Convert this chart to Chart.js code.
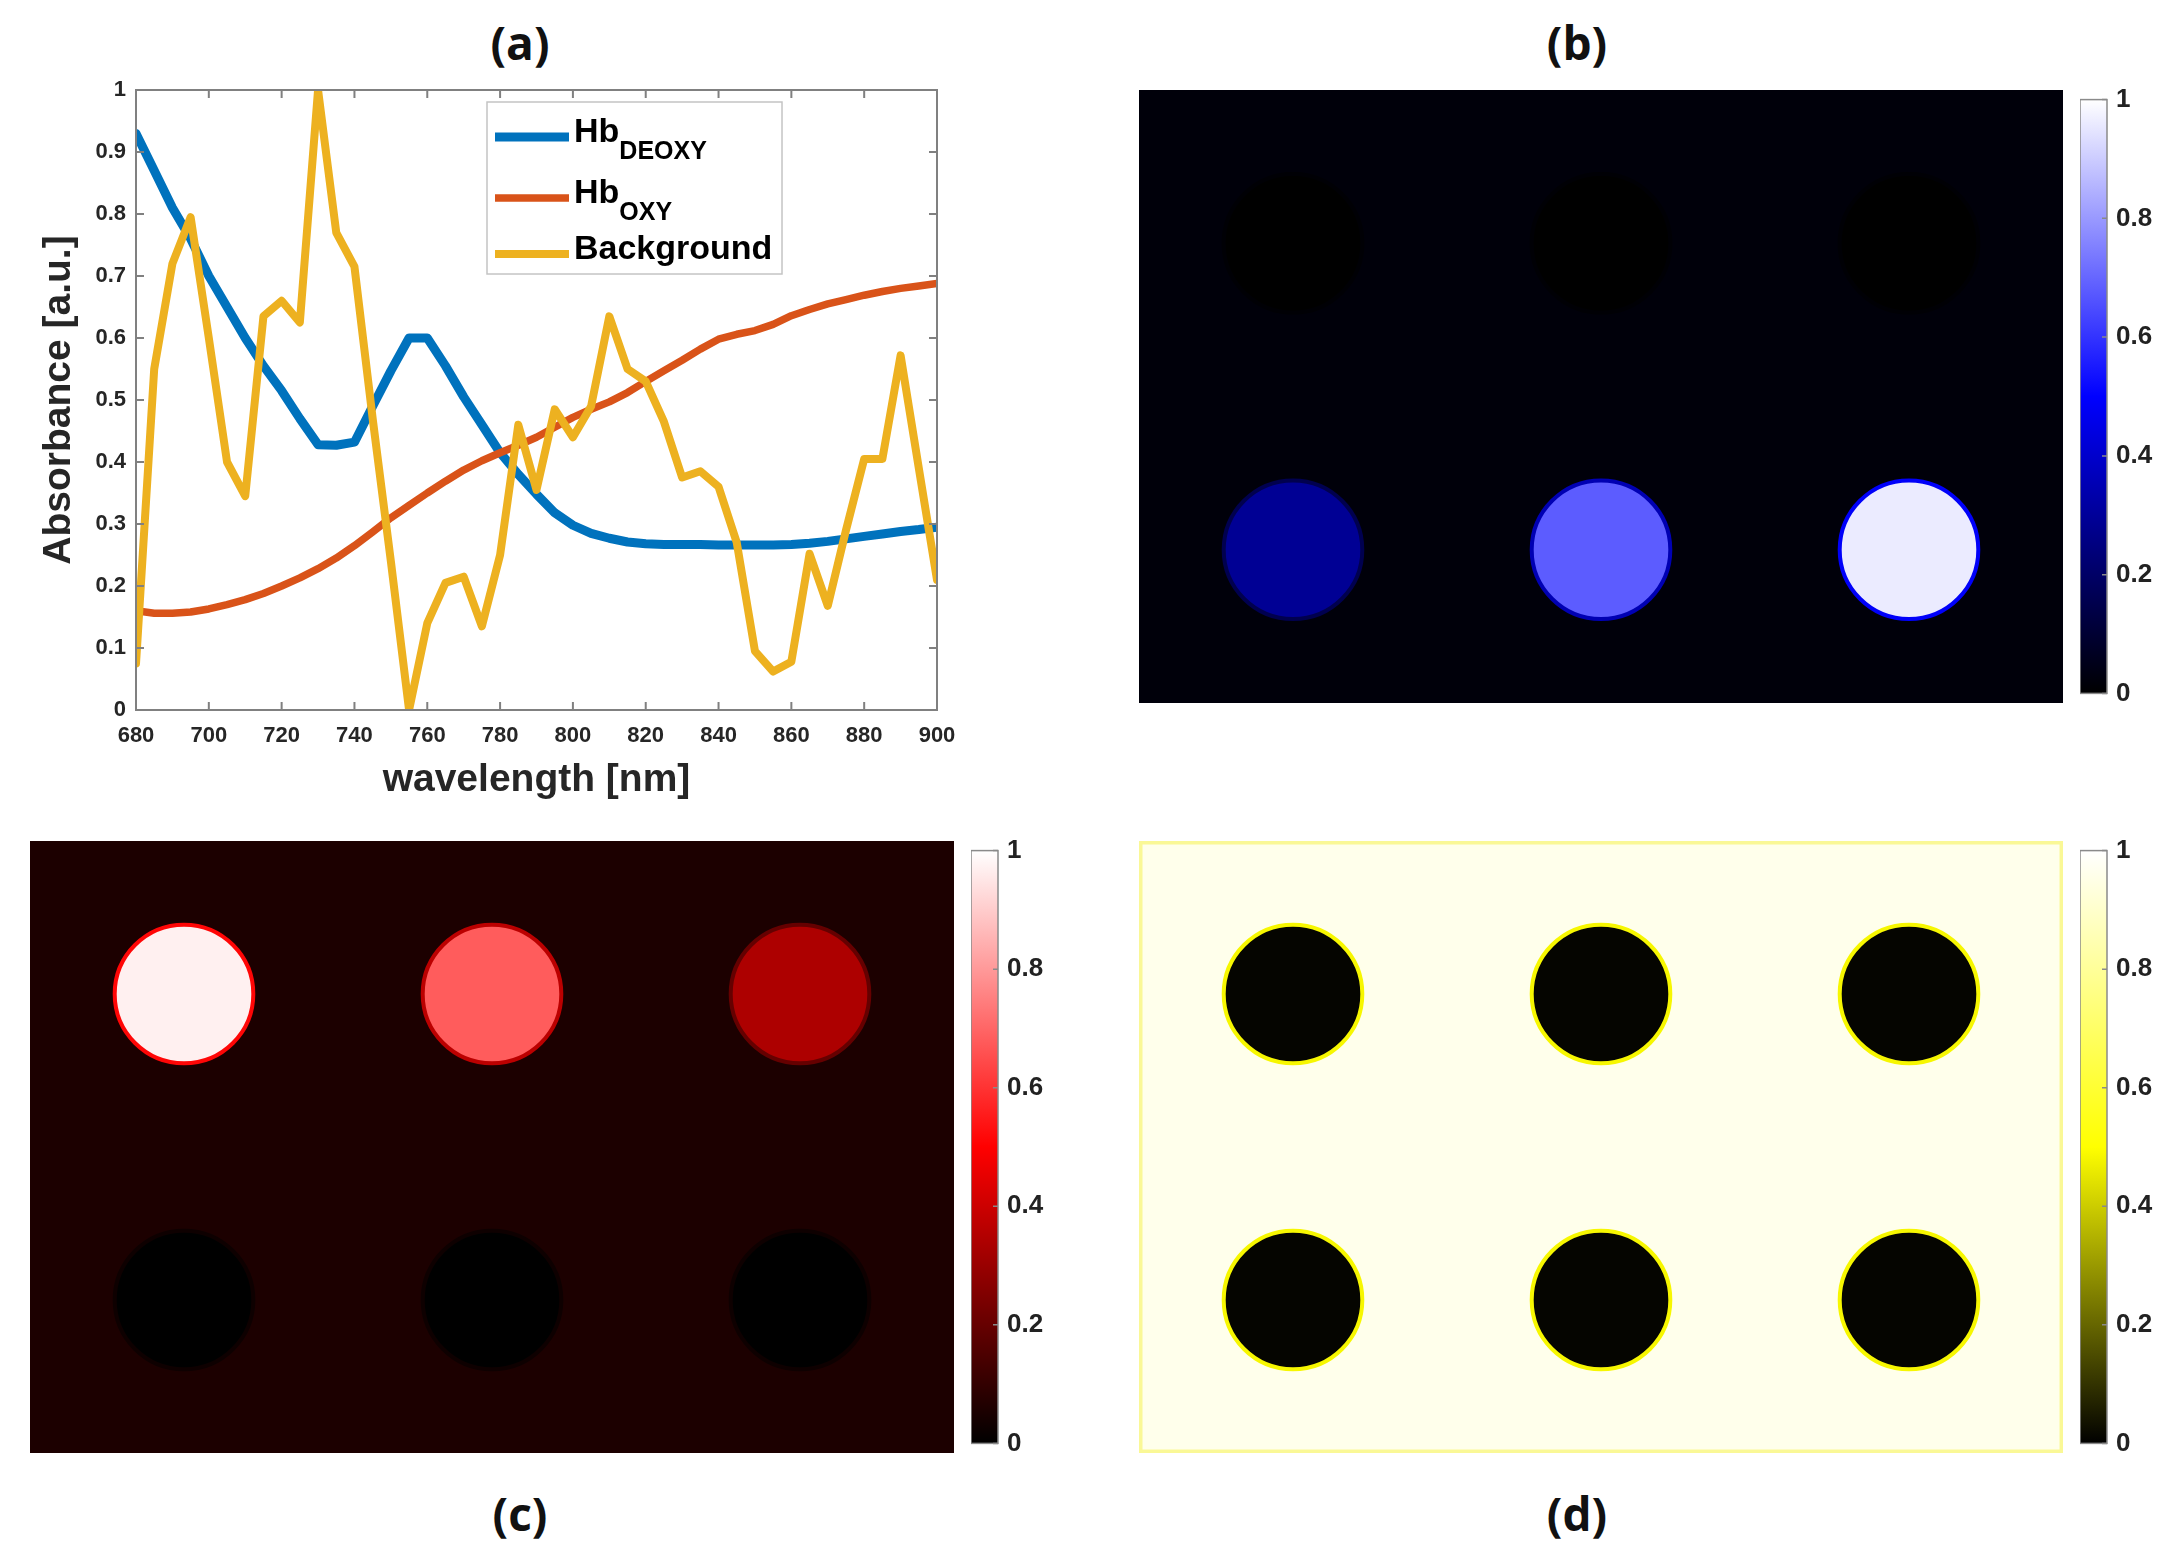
<!DOCTYPE html>
<html>
<head>
<meta charset="utf-8">
<script src="https://cdn.jsdelivr.net/npm/chart.js@4.4.1/dist/chart.umd.min.js"></script>
<style>
  body { margin: 0; background: #fff; width: 2173px; height: 1562px; position: relative; overflow: hidden; }
  .box { position: absolute; }
  .panel-label { position: absolute; transform: translate(-50%, -50%); font: bold 46px 'Open Sans', 'Liberation Sans', sans-serif; color: #111; }
</style>
</head>
<body>
<div class="panel-label" style="left:520px;top:42px">(a)</div>
<div class="panel-label" style="left:1577px;top:42px">(b)</div>
<div class="panel-label" style="left:520px;top:1513px">(c)</div>
<div class="panel-label" style="left:1577px;top:1513px">(d)</div>

<div class="box" style="left:0;top:0;width:1000px;height:820px"><canvas id="spectra"></canvas></div>

<div class="box" style="left:1139px;top:90px;width:924px;height:613px"><canvas id="mapDeoxy"></canvas></div>
<div class="box" style="left:2080px;top:75px;width:93px;height:643px"><canvas id="cbDeoxy"></canvas></div>

<div class="box" style="left:30px;top:841px;width:924px;height:612px"><canvas id="mapOxy"></canvas></div>
<div class="box" style="left:971px;top:826px;width:100px;height:642px"><canvas id="cbOxy"></canvas></div>

<div class="box" style="left:1139px;top:841px;width:924px;height:612px"><canvas id="mapBack"></canvas></div>
<div class="box" style="left:2080px;top:826px;width:93px;height:642px"><canvas id="cbBack"></canvas></div>

<script>
// ---- panel (a): absorbance spectra ----
var wavelengths = [680, 685, 690, 695, 700, 705, 710, 715, 720, 725, 730, 735, 740, 745, 750,
                   755, 760, 765, 770, 775, 780, 785, 790, 795, 800, 805, 810, 815, 820, 825,
                   830, 835, 840, 845, 850, 855, 860, 865, 870, 875, 880, 885, 890, 895, 900]
var hbDeoxy = [0.93, 0.87, 0.81, 0.76, 0.70, 0.65, 0.60, 0.555, 0.515, 0.47, 0.428, 0.427, 0.432, 0.49, 0.547,
               0.60, 0.60, 0.555, 0.505, 0.46, 0.415, 0.38, 0.348, 0.318, 0.298, 0.285, 0.277, 0.271, 0.268, 0.267,
               0.267, 0.267, 0.266, 0.266, 0.266, 0.266, 0.267, 0.269, 0.272, 0.276, 0.28, 0.284, 0.288, 0.291, 0.295]
var hbOxy = [0.16, 0.156, 0.156, 0.158, 0.163, 0.17, 0.178, 0.188, 0.2, 0.213, 0.228, 0.245, 0.265, 0.287, 0.31,
             0.33, 0.35, 0.369, 0.387, 0.402, 0.415, 0.427, 0.44, 0.456, 0.472, 0.485, 0.497, 0.512, 0.53, 0.547,
             0.564, 0.582, 0.598, 0.606, 0.612, 0.622, 0.636, 0.646, 0.655, 0.662, 0.669, 0.675, 0.68, 0.684, 0.688]
var background = [0.075, 0.55, 0.72, 0.795, 0.60, 0.40, 0.345, 0.635, 0.66, 0.625, 1.0, 0.77, 0.715, 0.47, 0.24,
                  0.0, 0.14, 0.205, 0.215, 0.135, 0.25, 0.46, 0.355, 0.485, 0.44, 0.49, 0.635, 0.55, 0.53, 0.465,
                  0.375, 0.385, 0.36, 0.27, 0.095, 0.062, 0.078, 0.252, 0.168, 0.29, 0.405, 0.405, 0.572, 0.39, 0.21]
var seriesLabels = ['Hb_DEOXY', 'Hb_OXY', 'Background']
var seriesColors = ['#0072BD', '#D95319', '#EDB120']

// ---- panels (b)-(d): phantom maps, 60 x 40 units, six inclusions ----
var phantomW = 60
var phantomH = 40
var inclusionX = [10, 30, 50, 10, 30, 50]
var inclusionY = [10, 10, 10, 30, 30, 30]
var inclusionR = 4.5
var deoxyValues = [0, 0, 0, 0.29, 0.68, 0.96]
var deoxyBackground = 0.02
var oxyValues = [0.97, 0.68, 0.34, 0, 0, 0]
var oxyBackground = 0.055
var backValues = [0.01, 0.01, 0.01, 0.01, 0.01, 0.01]
var backBackground = 0.96
var colorbarTicks = [0, 0.2, 0.4, 0.6, 0.8, 1]

var labelFont = "'Liberation Sans', Arial, sans-serif"

// black -> pure colour -> white, like the matlab maps
function cmap (base, v) {
  var rgb
  if (v <= 0.5) {
    rgb = base.map(function (b) { return b * v / 0.5 })
  } else {
    rgb = base.map(function (b) { return b + (255 - b) * (v - 0.5) / 0.5 })
  }
  return 'rgb(' + rgb.map(Math.round).join(',') + ')'
}

// box round the plot area with ticks pointing inwards
var axesBox = {
  id: 'axesBox',
  afterDatasetsDraw (chart, args, opts) {
    var ctx = chart.ctx
    var a = chart.chartArea
    var len = opts.tickLength
    ctx.save()
    ctx.strokeStyle = opts.color
    ctx.lineWidth = opts.width
    ctx.strokeRect(a.left, a.top, a.right - a.left, a.bottom - a.top)
    ctx.beginPath()
    var xs = chart.scales.x
    if (opts.xTicks && xs) {
      xs.ticks.forEach(function (t) {
        var px = xs.getPixelForValue(t.value)
        ctx.moveTo(px, a.bottom); ctx.lineTo(px, a.bottom - len)
        ctx.moveTo(px, a.top); ctx.lineTo(px, a.top + len)
      })
    }
    var ys = chart.scales.y
    ys.ticks.forEach(function (t) {
      var py = ys.getPixelForValue(t.value)
      if (opts.leftTicks) { ctx.moveTo(a.left, py); ctx.lineTo(a.left + len, py) }
      ctx.moveTo(a.right, py); ctx.lineTo(a.right - len, py)
    })
    ctx.stroke()
    ctx.restore()
  }
}

// legend inside the axes, with subscripts
var subLegend = {
  id: 'subLegend',
  afterDraw (chart, args, o) {
    var ctx = chart.ctx
    var a = chart.chartArea
    var x0 = a.left + o.left
    var y0 = a.top + o.top
    ctx.save()
    ctx.fillStyle = '#fff'
    ctx.fillRect(x0, y0, o.width, o.height)
    ctx.strokeStyle = '#c4c4c4'
    ctx.lineWidth = 1.5
    ctx.strokeRect(x0, y0, o.width, o.height)
    chart.data.datasets.forEach(function (ds, i) {
      var y = y0 + o.rows[i]
      ctx.strokeStyle = ds.borderColor
      ctx.lineWidth = ds.borderWidth
      ctx.beginPath()
      ctx.moveTo(x0 + 8, y)
      ctx.lineTo(x0 + 82, y)
      ctx.stroke()
      var parts = ds.label.split('_')
      ctx.fillStyle = '#000'
      ctx.textBaseline = 'middle'
      ctx.font = 'bold 34px ' + labelFont
      ctx.fillText(parts[0], x0 + 87, y - 4)
      if (parts[1]) {
        var w = ctx.measureText(parts[0]).width
        ctx.font = 'bold 25px ' + labelFont
        ctx.fillText(parts[1], x0 + 87 + w, y + 15)
      }
    })
    ctx.restore()
  }
}

// fills the image area with the background level of the map
var imageBg = {
  id: 'imageBg',
  beforeDatasetsDraw (chart, args, o) {
    var ctx = chart.ctx
    var a = chart.chartArea
    ctx.save()
    ctx.fillStyle = o.color
    ctx.fillRect(a.left, a.top, a.right - a.left, a.bottom - a.top)
    if (o.frame) {
      ctx.strokeStyle = o.frame
      ctx.lineWidth = 7
      ctx.strokeRect(a.left, a.top, a.right - a.left, a.bottom - a.top)
    }
    ctx.restore()
  }
}

var tickStyle = { color: '#262626', font: { family: labelFont, size: 22, weight: 'bold' } }
var titleStyle = { family: labelFont, size: 39, weight: 'bold' }

var spectra = new Chart(document.getElementById('spectra'), {
  type: 'line',
  data: {
    labels: wavelengths,
    datasets: [hbDeoxy, hbOxy, background].map(function (vals, i) {
      return {
        label: seriesLabels[i],
        data: vals.map(function (v, j) { return { x: wavelengths[j], y: v } }),
        borderColor: seriesColors[i],
        borderWidth: [9, 7.5, 8][i],
        borderJoinStyle: 'round',
        borderCapStyle: 'round',
        pointRadius: 0,
        tension: 0,
        order: 3 - i
      }
    })
  },
  options: {
    responsive: true,
    maintainAspectRatio: false,
    animation: false,
    events: [],
    layout: { padding: { left: 0, right: 63, top: 90, bottom: 10 } },
    scales: {
      x: {
        type: 'linear', min: 680, max: 900,
        afterFit (s) { s.height = 100 },
        grid: { display: false, drawTicks: false },
        border: { display: false },
        ticks: Object.assign({ stepSize: 20, padding: 13 }, tickStyle),
        title: { display: true, text: 'wavelength [nm]', color: '#262626', font: titleStyle, padding: { bottom: 6 } }
      },
      y: {
        min: 0, max: 1,
        afterFit (s) { s.width = 136 },
        grid: { display: false, drawTicks: false },
        border: { display: false },
        ticks: Object.assign({
          stepSize: 0.1, padding: 10,
          callback: function (v) { return String(Math.round(v * 10) / 10) }
        }, tickStyle),
        title: { display: true, text: 'Absorbance [a.u.]', color: '#262626', font: titleStyle, padding: { top: 36 } }
      }
    },
    plugins: {
      legend: { display: false },
      tooltip: { enabled: false },
      axesBox: { color: '#808080', width: 2, tickLength: 8, xTicks: true, leftTicks: true },
      subLegend: { left: 351, top: 12, width: 295, height: 172, rows: [35, 96, 152] }
    }
  },
  plugins: [axesBox, subLegend]
})

function makeMap (id, values, bgValue, base, frame) {
  var pts = inclusionX.map(function (x, i) { return { x: x, y: inclusionY[i], v: values[i] } })
  return new Chart(document.getElementById(id), {
    type: 'scatter',
    data: {
      datasets: [{
        data: pts,
        backgroundColor: function (c) { return c.raw ? cmap(base, c.raw.v) : '#000' },
        borderColor: function (c) { return c.raw ? cmap(base, (c.raw.v + bgValue) / 2) : '#000' },
        borderWidth: 4,
        pointRadius: function (c) {
          var s = c.chart.scales.x
          return s ? Math.abs(s.getPixelForValue(inclusionR) - s.getPixelForValue(0)) : 0
        }
      }]
    },
    options: {
      responsive: true,
      maintainAspectRatio: false,
      animation: false,
      events: [],
      layout: { padding: 0 },
      scales: {
        x: { type: 'linear', min: 0, max: phantomW, display: false },
        y: { type: 'linear', min: 0, max: phantomH, reverse: true, display: false }
      },
      plugins: {
        legend: { display: false },
        tooltip: { enabled: false },
        imageBg: { color: cmap(base, bgValue), frame: frame }
      }
    },
    plugins: [imageBg]
  })
}

function makeColorbar (id, base, axisWidth) {
  return new Chart(document.getElementById(id), {
    type: 'bar',
    data: {
      labels: [''],
      datasets: [{
        data: [[0, 1]],
        barPercentage: 1,
        categoryPercentage: 1,
        borderWidth: 0,
        backgroundColor: function (c) {
          var a = c.chart.chartArea
          if (!a) return cmap(base, 0.5)
          var g = c.chart.ctx.createLinearGradient(0, a.bottom, 0, a.top)
          g.addColorStop(0, cmap(base, 0))
          g.addColorStop(0.5, cmap(base, 0.5))
          g.addColorStop(1, cmap(base, 1))
          return g
        }
      }]
    },
    options: {
      responsive: true,
      maintainAspectRatio: false,
      animation: false,
      events: [],
      layout: { padding: { top: 15, bottom: 15, left: 0, right: 0 } },
      scales: {
        x: { display: false },
        y: {
          position: 'right', min: 0, max: 1,
          afterBuildTicks (s) { s.ticks = colorbarTicks.map(function (v) { return { value: v } }) },
          afterFit (s) { s.width = axisWidth },
          grid: { display: false, drawTicks: false },
          border: { display: false },
          ticks: {
            padding: 9, color: '#222',
            font: { family: labelFont, size: 26, weight: 'bold' },
            callback: function (v) { return String(v) }
          }
        }
      },
      plugins: {
        legend: { display: false },
        tooltip: { enabled: false },
        axesBox: { color: '#8a8a8a', width: 1.5, tickLength: 5, xTicks: false, leftTicks: false }
      }
    },
    plugins: [axesBox]
  })
}

makeMap('mapDeoxy', deoxyValues, deoxyBackground, [0, 0, 255], null)
makeMap('mapOxy', oxyValues, oxyBackground, [255, 0, 0], null)
makeMap('mapBack', backValues, backBackground, [255, 255, 0], 'rgb(250,248,150)')

makeColorbar('cbDeoxy', [0, 0, 255], 66)
makeColorbar('cbOxy', [255, 0, 0], 73)
makeColorbar('cbBack', [255, 255, 0], 66)
</script>
</body>
</html>
